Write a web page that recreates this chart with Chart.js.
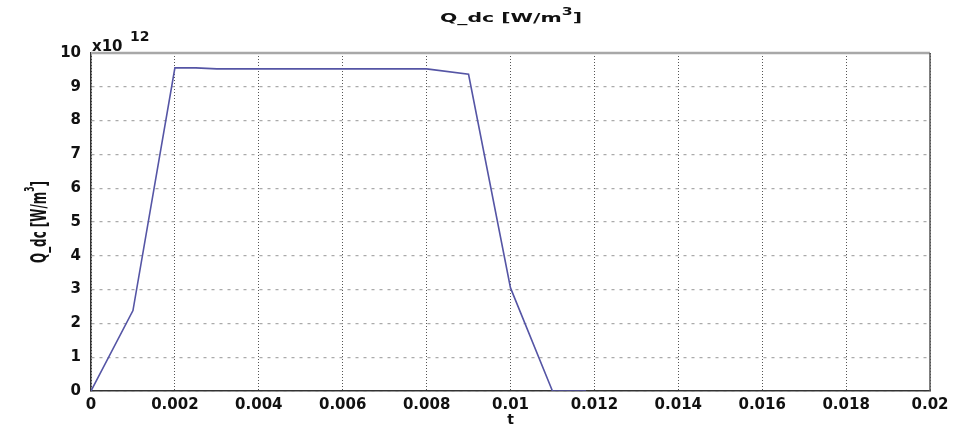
<!DOCTYPE html>
<html>
<head>
<meta charset="utf-8">
<script src="https://cdn.jsdelivr.net/npm/chart.js@4/dist/chart.umd.min.js"></script>
<style>
  body { margin: 0; background: #fff; }
  #wrap { width: 955px; height: 425px; }
</style>
</head>
<body>
<div id="wrap"><canvas id="qdcCanvas" width="955" height="425"></canvas></div>
<script>
// time values (s) and Q_dc in units of 1e12 W/m^3
var tValues  = [0, 0.001, 0.002, 0.0025, 0.003, 0.004, 0.005, 0.006, 0.007, 0.008, 0.009, 0.01, 0.011, 0.0118];
var qValues  = [0, 2.38, 9.56, 9.56, 9.53, 9.53, 9.53, 9.53, 9.53, 9.53, 9.37, 3.05, 0, 0];
var xTicks   = [0, 0.002, 0.004, 0.006, 0.008, 0.01, 0.012, 0.014, 0.016, 0.018, 0.02];
var yTicks   = [0, 1, 2, 3, 4, 5, 6, 7, 8, 9, 10];

var points = tValues.map(function(t, i) { return {x: t, y: qValues[i]}; });

var tickFont = {family: "DejaVu Sans", size: 15, weight: "bold"};

// draws text with a superscript, stretched horizontally to a given width
function supText(ctx, base, sup, x, y, size, supSize, width, family) {
    ctx.save();
    ctx.font = "bold " + size + "px '" + family + "'";
    var wb = ctx.measureText(base).width;
    ctx.font = "bold " + supSize + "px '" + family + "'";
    var ws = ctx.measureText(sup).width;
    ctx.font = "bold " + size + "px '" + family + "'";
    var wc = ctx.measureText("]").width;
    var total = wb + ws + wc;
    var k = width / total;
    ctx.translate(x - width / 2, y);
    ctx.scale(k, 1);
    ctx.fillText(base, 0, 0);
    ctx.font = "bold " + supSize + "px '" + family + "'";
    ctx.fillText(sup, wb, -size * 0.55);
    ctx.font = "bold " + size + "px '" + family + "'";
    ctx.fillText("]", wb + ws, 0);
    ctx.restore();
}

// extra text and frame: title, x10^12 multiplier, top/right borders
var decorPlugin = {
    id: "decor",
    afterDraw: function(chart) {
        var ctx = chart.ctx;
        var a = chart.chartArea;
        ctx.save();
        // top frame (grey) and right frame (dark)
        ctx.strokeStyle = "#a8a8a8";
        ctx.lineWidth = 2.5;
        ctx.beginPath(); ctx.moveTo(a.left, a.top); ctx.lineTo(a.right, a.top); ctx.stroke();
        ctx.strokeStyle = "#555";
        ctx.lineWidth = 1.5;
        ctx.beginPath(); ctx.moveTo(a.right, a.top); ctx.lineTo(a.right, a.bottom); ctx.stroke();

        ctx.fillStyle = "#111";
        ctx.textAlign = "left";
        ctx.textBaseline = "alphabetic";
        // title
        supText(ctx, "Q_dc [W/m", "3", 511, 22, 13, 10, 142, "DejaVu Sans");

        // multiplier
        ctx.font = "bold 15px 'DejaVu Sans'";
        ctx.fillText("x10", 92, 51);
        ctx.font = "bold 14px 'DejaVu Sans'";
        ctx.fillText("12", 130, 41);

        // y axis title (tall, compressed)
        ctx.translate(46, 222);
        ctx.rotate(-Math.PI / 2);
        supText(ctx, "Q_dc [W/m", "3", 0, 0, 22, 14, 82, "DejaVu Sans Condensed");
        ctx.restore();
    }
};

new Chart(document.getElementById("qdcCanvas"), {
    type: "line",
    data: {
        datasets: [{
            data: points,
            borderColor: "#5555a5",
            borderWidth: 1.6,
            pointRadius: 0,
            tension: 0,
            fill: false
        }]
    },
    options: {
        responsive: false,
        maintainAspectRatio: false,
        animation: false,
        layout: { padding: { top: 53, right: 25, left: 0, bottom: 0 } },
        plugins: {
            legend: { display: false },
            tooltip: { enabled: false },
            title: { display: false }
        },
        scales: {
            x: {
                type: "linear",
                min: 0, max: 0.02,
                afterBuildTicks: function(scale) {
                    scale.ticks = xTicks.map(function(v) { return {value: v}; });
                },
                afterFit: function(scale) { scale.height = 34; },
                ticks: {
                    color: "#111",
                    font: tickFont,
                    padding: 5,
                    maxRotation: 0,
                    callback: function(v) { return String(+v.toFixed(3)); }
                },
                grid: { color: "#555", lineWidth: 1, drawTicks: false },
                border: { display: true, color: "#333", width: 1.5, dash: [1, 2] },
                title: { display: true, text: "t", color: "#111", font: {family: "DejaVu Sans", size: 14, weight: "bold"}, padding: {top: 0, bottom: -4} }
            },
            y: {
                min: 0, max: 10,
                afterBuildTicks: function(scale) {
                    scale.ticks = yTicks.map(function(v) { return {value: v}; });
                },
                afterFit: function(scale) { scale.width = 91; },
                ticks: {
                    color: "#111",
                    font: tickFont,
                    padding: 10
                },
                grid: { color: "#aaa", lineWidth: 1.2, drawTicks: false },
                border: { display: true, color: "#333", width: 1.5, dash: [3, 5] }
            }
        }
    },
    plugins: [decorPlugin]
});
</script>
</body>
</html>
